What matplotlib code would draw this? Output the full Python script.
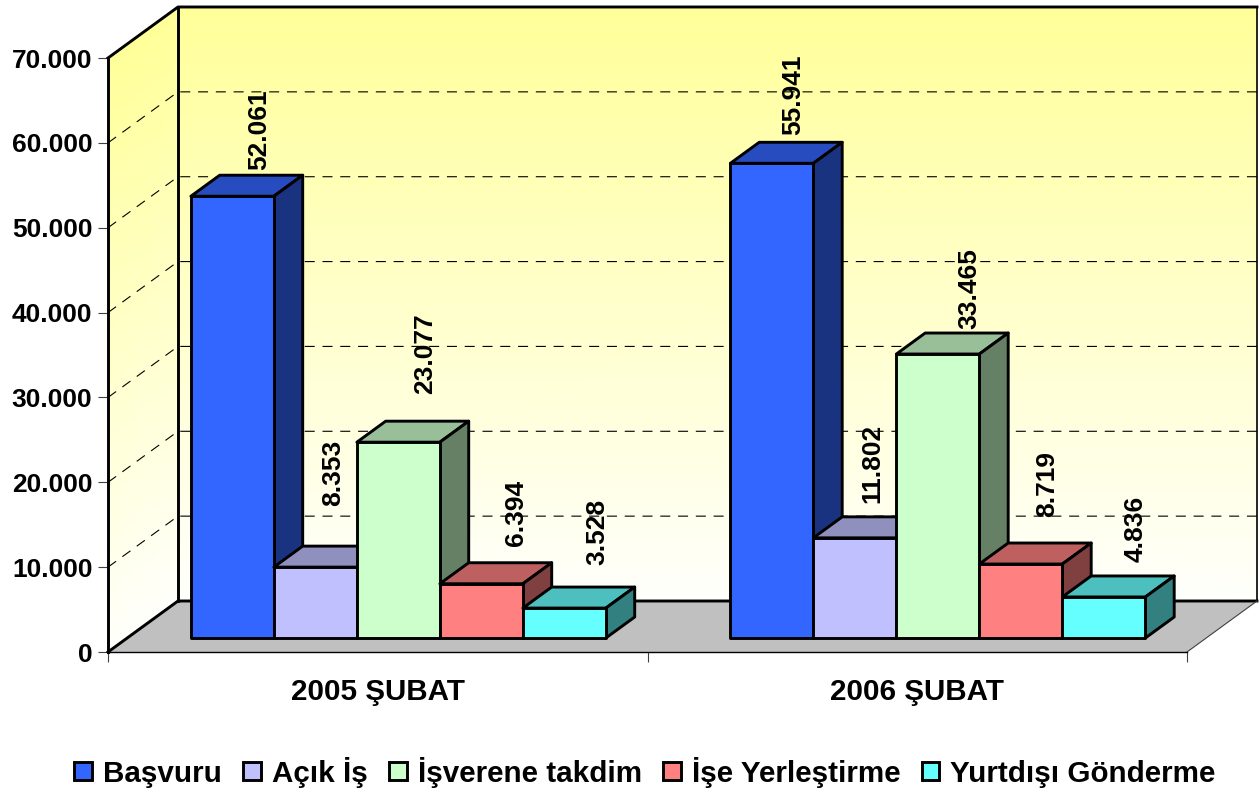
import matplotlib
matplotlib.use('Agg')
import matplotlib.pyplot as plt
import numpy as np
from matplotlib.colors import LinearSegmentedColormap
from matplotlib.patches import Patch, Polygon

# Data
periods = ['2005 ŞUBAT', '2006 ŞUBAT']
series = ['Başvuru', 'Açık İş', 'İşverene takdim', 'İşe Yerleştirme', 'Yurtdışı Gönderme']
basvuru = [52061, 55941]
acik_is = [8353, 11802]
takdim = [23077, 33465]
yerlestirme = [6394, 8719]
yurtdisi = [3528, 4836]
y_ticks = [0, 10000, 20000, 30000, 40000, 50000, 60000, 70000]

# Styles
front_colors = ['#3366FF', '#C0C0FF', '#CCFFCC', '#FF8080', '#66FFFF']
top_colors = ['#264CBF', '#9090BF', '#99BF99', '#BF6060', '#4DBFBF']
side_colors = ['#1A3380', '#606080', '#668066', '#804040', '#338080']
# hand placed label offsets in the original, pixels from the top back edge of the bar
label_dx = [[-2, -11, -2, 6, 4], [-7, -11, 3, -3, 3]]
label_dy = [[5, 40, 27, 17, 22], [7, 14, 4, 26, 14]]

W, H = 1260, 792
FONT = 'Liberation Sans'
plt.rcParams['font.family'] = FONT
plt.rcParams['font.weight'] = 'bold'

fig = plt.figure(figsize=(W / 100, H / 100), dpi=100)
ax = fig.add_axes([108 / W, 1 - 652 / H, (1187 - 108) / W, (652 - 58) / H])
ax.set_xlim(0, 2)
ax.set_ylim(0, 70000)
ax.patch.set_visible(False)

# depth shift of the 3D box, in data units
x_unit = (1187 - 108) / 2
y_unit = (652 - 58) / 70000
depth_x = 70 / x_unit
depth_y = 51 / y_unit
bar_w = 83 / x_unit
bar_start = 0.118
d0, d1 = 14 / 51, 35 / 51


def proj(x, v, d):
    return (x + d * depth_x, v + d * depth_y)


# walls
wall_cmap = LinearSegmentedColormap.from_list('wall', ['#FFFFFC', '#FFFF99'])
xb = np.array([[0, 2], [0, 2]]) + depth_x
yb = np.array([[0, 0], [70000, 70000]]) + depth_y
ax.pcolormesh(xb, yb, np.array([[0, 0], [1, 1]]), shading='gouraud', cmap=wall_cmap,
              vmin=0, vmax=1, clip_on=False, zorder=1)
xl = np.array([[0, depth_x], [0, depth_x]])
yl = np.array([[0, depth_y], [70000, 70000 + depth_y]])
ax.pcolormesh(xl, yl, np.array([[0, 0], [1, 1]]), shading='gouraud', cmap=wall_cmap,
              vmin=0, vmax=1, clip_on=False, zorder=1)

# floor
floor = [proj(0, 0, 0), proj(2, 0, 0), proj(2, 0, 1), proj(0, 0, 1)]
ax.add_patch(Polygon(floor, closed=True, fc='#C0C0C0', ec='none', clip_on=False, zorder=2))

# grid lines on both walls
for v in y_ticks[1:-1]:
    ax.plot([0, depth_x, 2 + depth_x], [v, v + depth_y, v + depth_y], color='black', lw=0.8,
            ls=(0, (9, 7)), clip_on=False, zorder=3)

# wall frame
frame = dict(color='black', lw=2.1, clip_on=False, zorder=4, solid_capstyle='projecting')
ax.plot([0, depth_x, 2 + depth_x], [70000, 70000 + depth_y, 70000 + depth_y], **frame)
ax.plot([depth_x, depth_x], [depth_y, 70000 + depth_y], **frame)
ax.plot([0, depth_x, 2 + depth_x], [0, depth_y, depth_y], **frame)
ax.plot([2 + depth_x, 2 + depth_x], [depth_y, 70000 + depth_y], color='black', lw=1.2,
        clip_on=False, zorder=4)
ax.plot([2, 2 + depth_x], [0, depth_y], color='#404040', lw=0.8, clip_on=False, zorder=4)

# bars, left to right so each one covers the side of the previous
all_values = [basvuru, acik_is, takdim, yerlestirme, yurtdisi]
outline = dict(closed=True, ec='black', lw=2.1, clip_on=False, joinstyle='round', zorder=5)
for g in range(len(periods)):
    for s, values in enumerate(all_values):
        v = values[g]
        x0 = g + bar_start + s * bar_w
        x1 = x0 + bar_w
        front = [proj(x0, 0, d0), proj(x1, 0, d0), proj(x1, v, d0), proj(x0, v, d0)]
        top = [proj(x0, v, d0), proj(x1, v, d0), proj(x1, v, d1), proj(x0, v, d1)]
        side = [proj(x1, 0, d0), proj(x1, 0, d1), proj(x1, v, d1), proj(x1, v, d0)]
        ax.add_patch(Polygon(top, fc=top_colors[s], **outline))
        ax.add_patch(Polygon(side, fc=side_colors[s], **outline))
        ax.add_patch(Polygon(front, fc=front_colors[s], **outline))
        label = f'{v:,}'.replace(',', '.')
        ax.annotate(label, xy=proj((x0 + x1) / 2, v, d1),
                    xytext=(label_dx[g][s], label_dy[g][s]), textcoords='offset pixels',
                    rotation=90, ha='center', va='bottom', fontsize=19, fontweight='bold',
                    annotation_clip=False, zorder=6)

# axes
for name in ['top', 'right']:
    ax.spines[name].set_visible(False)
ax.spines['left'].set_linewidth(2.1)
ax.spines['left'].set_zorder(4)
ax.spines['bottom'].set_linewidth(1.0)
ax.spines['bottom'].set_zorder(4)
ax.set_yticks(y_ticks)
ax.set_yticklabels([f'{v:,}'.replace(',', '.') for v in y_ticks], fontsize=19, fontweight='bold')
ax.tick_params(axis='y', length=7.2, width=0.8, color='#404040', pad=4)
ax.set_xticks([0, 1, 2])
ax.set_xticklabels([])
ax.tick_params(axis='x', which='major', length=7.2, width=0.8, color='#404040')
ax.set_xticks([0.5, 1.5], minor=True)
ax.set_xticklabels(periods, minor=True, fontsize=21.3, fontweight='bold')
ax.tick_params(axis='x', which='minor', length=0, pad=19)

# legend
handles = [Patch(fc=c, ec='black', lw=2.1) for c in front_colors]
fig.legend(handles, series, loc='center', bbox_to_anchor=(645 / W, 1 - 772 / H), ncol=5,
           frameon=False, fontsize=21.3, handlelength=0.6, handleheight=0.6,
           handletextpad=0.37, columnspacing=0.72, borderpad=0)

fig.savefig('out.png', dpi=100)
